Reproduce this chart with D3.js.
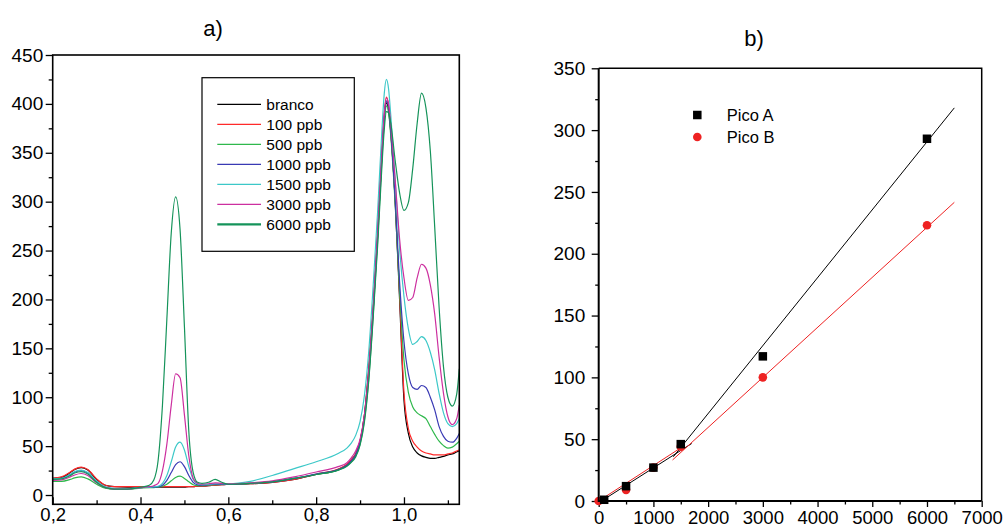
<!DOCTYPE html>
<html>
<head>
<meta charset="utf-8">
<script src="https://cdn.jsdelivr.net/npm/d3@7"></script>
<style>
  body { margin: 0; background: #fff; }
  svg { font-family: "Liberation Sans", Arial, sans-serif; }
</style>
</head>
<body>
<div id="chart"></div>
<script>
// a) spectra, shared x grid
const potential = [0.20, 0.22, 0.24, 0.25, 0.265, 0.28, 0.30, 0.32, 0.34, 0.37, 0.40,
  0.42, 0.43, 0.44, 0.45, 0.46, 0.47, 0.48, 0.49, 0.50,
  0.51, 0.52, 0.53, 0.54, 0.555, 0.57, 0.585, 0.60,
  0.65, 0.70, 0.75, 0.80, 0.85, 0.87, 0.88, 0.89, 0.90,
  0.91, 0.92, 0.93, 0.94, 0.95, 0.955, 0.96, 0.965, 0.97,
  0.98, 0.99, 1.00, 1.01, 1.02, 1.03, 1.04, 1.05, 1.06,
  1.07, 1.08, 1.09, 1.10, 1.11, 1.12, 1.126];

const branco = [17, 18, 23, 26, 28, 25.5, 16, 10, 8.5, 8, 8,
  8, 8, 8, 8, 8, 8, 8, 8, 8,
  8.5, 8.5, 9, 9, 9.5, 10, 10.5, 11,
  11.5, 13, 16, 21, 26, 31, 36, 42, 55,
  82, 130, 190, 265, 350, 385, 401, 393, 370,
  300, 200, 97, 63, 49, 43, 40, 38.5, 37.5,
  37.5, 38.5, 39.5, 41, 42, 44, 45];

const ppb100 = [17, 18.5, 23.5, 26.5, 28.5, 26, 16.5, 10, 8.5, 8.5, 8.5,
  8.5, 8.5, 8.5, 8.5, 8.5, 8.5, 8.5, 8.5, 8.5,
  8.5, 8.5, 9, 9, 9.5, 10, 10.5, 11,
  11.5, 13, 16, 21.5, 26.5, 31.5, 36, 42, 55,
  82, 131, 193, 268, 353, 390, 407, 398, 373,
  302, 205, 105, 68, 55, 49, 45, 43, 42,
  41, 41, 41, 42, 43, 45, 46];

const ppb500 = [14, 14, 16, 17.5, 18.5, 16.5, 11, 7, 6, 6, 7,
  7.5, 7.5, 8, 9, 11, 14.5, 18, 19.3, 17,
  13.5, 10.5, 9.5, 9.5, 10, 10.5, 11, 11,
  12, 13.5, 17, 21, 25.5, 30, 34, 40, 52,
  77, 120, 185, 260, 345, 380, 398, 391, 367,
  297, 208, 138, 105, 90, 84, 81, 78, 70,
  62, 55, 50.5, 48, 49, 52.5, 55];

const ppb1000 = [16, 17, 21, 23.5, 25, 22.5, 14, 8, 6.5, 6.5, 7.5,
  8, 8, 8.5, 10, 15, 23, 31, 34, 29,
  20, 13, 10.5, 10, 10.5, 11, 11, 11,
  12, 13.5, 17, 21.5, 26, 30.5, 35, 41, 54,
  80, 125, 190, 266, 350, 387, 403, 396, 372,
  302, 218, 157, 124, 110, 108, 112, 110, 100,
  87, 70, 60, 55, 54, 58, 63];

const ppb1500 = [16.5, 17, 21, 24, 25.5, 23, 14, 8, 6.5, 6.5, 7.5,
  8, 8.5, 9, 12, 20, 34, 49, 54, 46,
  29, 16, 11.5, 10.5, 11, 11.5, 11.5, 11.5,
  14, 20, 27, 34, 42.5, 48, 53, 61, 75,
  102, 148, 215, 290, 375, 410, 425, 415, 388,
  322, 252, 203, 170, 154, 157, 162, 158, 146,
  128, 104, 84, 73, 70, 73, 78];

const ppb3000 = [15, 15.5, 18.5, 20.5, 22, 20, 12.5, 7.5, 6, 6, 7.5,
  8.5, 9.5, 12, 25, 52, 92, 124, 120, 82,
  40, 17, 12, 11, 11.5, 12.5, 12, 11.5,
  12.5, 14.5, 18.5, 23.5, 29, 33, 38, 45, 57,
  82, 127, 192, 268, 352, 389, 406, 400, 378,
  322, 262, 222, 199, 202, 222, 236, 232, 215,
  185, 141, 104, 80, 72, 78, 92];

const ppb6000 = [16, 16.5, 20, 22.5, 24, 21.5, 13, 7.5, 6, 6, 8,
  10, 15, 35, 92, 180, 268, 305, 272, 172,
  65, 23, 13, 12, 13, 16, 13, 11,
  12, 13.5, 17, 21, 25.5, 29.5, 33.5, 39, 51,
  75, 118, 182, 255, 338, 373, 392, 391, 380,
  342, 309, 291, 299, 334, 380, 411, 396, 352,
  274, 192, 131, 100, 91, 103, 129];

const seriesNames = ["branco", "100 ppb", "500 ppb", "1000 ppb", "1500 ppb", "3000 ppb", "6000 ppb"];
const seriesValues = [branco, ppb100, ppb500, ppb1000, ppb1500, ppb3000, ppb6000];
const seriesColors = ["#000000", "#ff2a2a", "#2fb84c", "#3a3ab4", "#3cc8c8", "#cc2f9f", "#15935a"];

// b) calibration points and fitted lines
const concA = [100, 500, 1000, 1500, 3000, 6000];
const picoA = [1, 12, 27, 46, 117, 293];
const concB = [0, 500, 1000, 1500, 3000, 6000];
const picoB = [0, 9, 27, 44, 100, 223];
const fitA = [[[50, 0], [1700, 46.5]], [[1364, 35.8], [6500, 318]]];
const fitB = [[[0, 0], [1500, 43]], [[1350, 33.2], [6500, 241.6]]];

const comma = d3.formatLocale({ decimal: ",", thousands: ".", grouping: [3], currency: ["", ""] });

const svg = d3
  .select("#chart")
  .append("svg")
  .attr("width", 1005)
  .attr("height", 527);

// ---------- a) ----------
const a = { left: 52.7, top: 55, width: 406.6, height: 449.3 };
const gA = svg.append("g").attr("transform", `translate(${a.left}, ${a.top})`);

const xA = d3.scaleLinear().domain([0.2, 1.126]).range([0, a.width]);
const yA = d3.scaleLinear().domain([-9.5, 450]).range([a.height, 0]);

svg.append("defs")
  .append("clipPath")
  .attr("id", "clipA")
  .append("rect")
  .attr("width", a.width)
  .attr("height", a.height);

const line = d3
  .line()
  .x((d) => xA(d[0]))
  .y((d) => yA(d[1]))
  .curve(d3.curveMonotoneX);

gA.append("g")
  .attr("clip-path", "url(#clipA)")
  .selectAll("path")
  .data(seriesValues)
  .join("path")
  .attr("d", (vals) => line(potential.map((p, i) => [p, vals[i]])))
  .attr("fill", "none")
  .attr("stroke", (d, i) => seriesColors[i])
  .attr("stroke-width", 1.2);

gA.append("g")
  .attr("class", "xlab")
  .attr("transform", `translate(0, ${a.height})`)
  .call(d3.axisBottom(xA).tickValues([0.2, 0.4, 0.6, 0.8, 1.0]).tickSize(-7).tickPadding(4)
    .tickFormat(comma.format(".1f")))
  .call((g) => g.select(".domain").remove());

gA.append("g")
  .attr("transform", `translate(0, ${a.height})`)
  .call(d3.axisBottom(xA).tickValues([0.3, 0.5, 0.7, 0.9, 1.1]).tickSize(-4).tickFormat(""))
  .call((g) => g.select(".domain").remove());

gA.append("g")
  .call(d3.axisLeft(yA).tickValues(d3.range(0, 451, 50)).tickSize(7).tickPadding(2.5))
  .call((g) => g.select(".domain").remove());

gA.append("g")
  .call(d3.axisLeft(yA).tickValues(d3.range(25, 450, 50)).tickSize(4).tickFormat(""))
  .call((g) => g.select(".domain").remove());

gA.selectAll(".tick line").attr("stroke-width", 1.3);
gA.selectAll(".tick text").attr("font-size", 19).attr("fill", "#000");
gA.selectAll(".xlab .tick text").attr("font-size", 18.5);

gA.append("rect")
  .attr("width", a.width)
  .attr("height", a.height)
  .attr("fill", "none")
  .attr("stroke", "#000")
  .attr("stroke-width", 1.6);

// legend a)
const legA = gA.append("g").attr("transform", `translate(${202 - a.left}, ${77.7 - a.top})`);
legA.append("rect")
  .attr("width", 152.3)
  .attr("height", 173.6)
  .attr("fill", "#fff")
  .attr("stroke", "#000")
  .attr("stroke-width", 1.2);

const legRows = legA
  .selectAll("g.row")
  .data(seriesNames)
  .join("g")
  .attr("class", "row")
  .attr("transform", (d, i) => `translate(0, ${26.6 + i * 20})`);

legRows.append("line")
  .attr("x1", 15.3)
  .attr("x2", 59)
  .attr("stroke", (d, i) => seriesColors[i])
  .attr("stroke-width", (d, i) => (i === 6 ? 2.2 : 1.3));

legRows.append("text")
  .attr("x", 64.3)
  .attr("dy", "0.36em")
  .attr("font-size", 15.5)
  .text((d) => d);

svg.append("text")
  .attr("x", 213)
  .attr("y", 36)
  .attr("text-anchor", "middle")
  .attr("font-size", 22)
  .text("a)");

// ---------- b) ----------
const b = { left: 598.7, top: 68.3, width: 383, height: 432.7 };
const gB = svg.append("g").attr("transform", `translate(${b.left}, ${b.top})`);

const xB = d3.scaleLinear().domain([0, 7000]).range([0, b.width]);
const yB = d3.scaleLinear().domain([0, 350]).range([b.height, 0]);

gB.append("g")
  .attr("class", "xlab")
  .attr("transform", `translate(0, ${b.height})`)
  .call(d3.axisBottom(xB).tickValues(d3.range(0, 7001, 1000)).tickSize(6).tickPadding(3.5)
    .tickFormat(d3.format("d")))
  .call((g) => g.select(".domain").remove());

gB.append("g")
  .attr("transform", `translate(0, ${b.height})`)
  .call(d3.axisBottom(xB).tickValues(d3.range(500, 7000, 1000)).tickSize(3.5).tickFormat(""))
  .call((g) => g.select(".domain").remove());

gB.append("g")
  .call(d3.axisLeft(yB).tickValues(d3.range(0, 351, 50)).tickSize(7).tickPadding(6.5))
  .call((g) => g.select(".domain").remove());

gB.append("g")
  .call(d3.axisLeft(yB).tickValues(d3.range(25, 350, 50)).tickSize(3.5).tickFormat(""))
  .call((g) => g.select(".domain").remove());

gB.selectAll(".tick line").attr("stroke-width", 1.3);
gB.selectAll(".tick text").attr("font-size", 19).attr("fill", "#000");
gB.selectAll(".xlab .tick text").attr("font-size", 18.5);

const fitLine = d3.line().x((d) => xB(d[0])).y((d) => yB(d[1]));

gB.selectAll("path.fitA")
  .data(fitA)
  .join("path")
  .attr("class", "fitA")
  .attr("d", fitLine)
  .attr("stroke", "#000")
  .attr("stroke-width", 1)
  .attr("fill", "none");

gB.selectAll("path.fitB")
  .data(fitB)
  .join("path")
  .attr("class", "fitB")
  .attr("d", fitLine)
  .attr("stroke", "#ee2222")
  .attr("stroke-width", 1)
  .attr("fill", "none");

gB.selectAll("circle.pb")
  .data(concB.map((c, i) => [c, picoB[i]]))
  .join("circle")
  .attr("class", "pb")
  .attr("cx", (d) => xB(d[0]))
  .attr("cy", (d) => yB(d[1]))
  .attr("r", 4.3)
  .attr("fill", "#ee2222");

const sq = 8.5;
gB.selectAll("rect.pa")
  .data(concA.map((c, i) => [c, picoA[i]]))
  .join("rect")
  .attr("class", "pa")
  .attr("x", (d) => xB(d[0]) - sq / 2)
  .attr("y", (d) => yB(d[1]) - sq / 2)
  .attr("width", sq)
  .attr("height", sq)
  .attr("fill", "#000");

gB.append("path")
  .attr("d", `M0,0V${b.height}H${b.width}`)
  .attr("fill", "none")
  .attr("stroke", "#000")
  .attr("stroke-width", 2);

gB.append("path")
  .attr("d", `M0,0H${b.width}V${b.height}`)
  .attr("fill", "none")
  .attr("stroke", "#000")
  .attr("stroke-width", 1.5);

// legend b)
const legB = gB.append("g").attr("transform", `translate(${697.3 - b.left}, ${115 - b.top})`);
legB.append("rect")
  .attr("x", -sq / 2)
  .attr("y", -sq / 2)
  .attr("width", sq)
  .attr("height", sq)
  .attr("fill", "#000");
legB.append("circle")
  .attr("cy", 22)
  .attr("r", 4.3)
  .attr("fill", "#ee2222");
legB.selectAll("text")
  .data(["Pico A", "Pico B"])
  .join("text")
  .attr("x", 29.5)
  .attr("y", (d, i) => i * 22)
  .attr("dy", "0.36em")
  .attr("font-size", 16.5)
  .text((d) => d);

svg.append("text")
  .attr("x", 754)
  .attr("y", 46)
  .attr("text-anchor", "middle")
  .attr("font-size", 22)
  .text("b)");
</script>
</body>
</html>
